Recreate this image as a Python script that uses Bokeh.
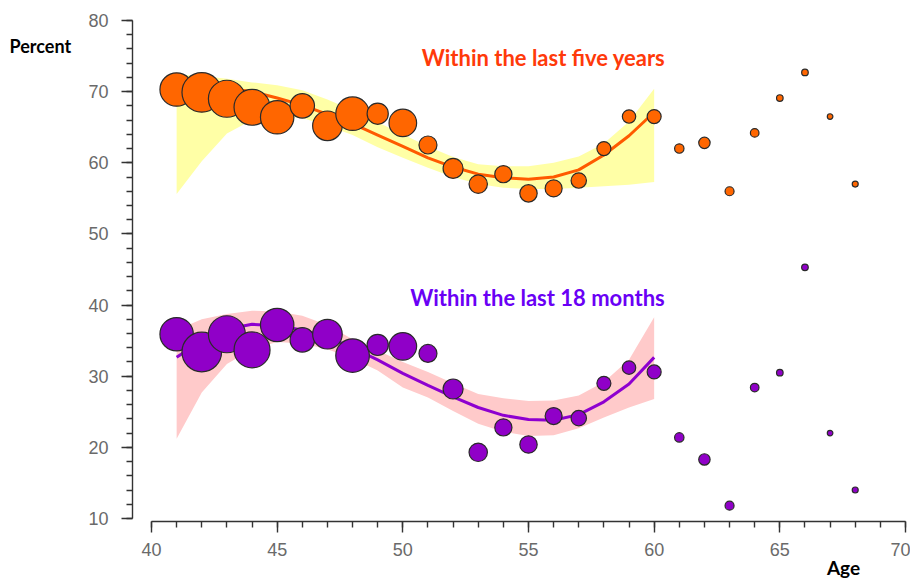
from bokeh.plotting import figure
from bokeh.models import Range1d, SingleIntervalTicker, Label
from bokeh.embed import file_html
from bokeh.resources import INLINE

# ---- data ----
ages = list(range(41, 69))
five_years = [70.3, 69.9, 69.0, 67.8, 66.4, 68.0, 65.2, 66.9, 66.9, 65.6,
              62.5, 59.2, 57.0, 58.4, 55.7, 56.4, 57.5, 62.0, 66.5, 66.5,
              62.0, 62.8, 56.0, 64.2, 69.1, 72.7, 66.5, 57.0]
eighteen_months = [35.9, 33.4, 35.9, 33.7, 37.2, 35.1, 35.9, 32.9, 34.4, 34.2,
                   33.2, 28.2, 19.3, 22.8, 20.4, 24.4, 24.1, 29.0, 31.2, 30.6,
                   21.4, 18.3, 11.8, 28.4, 30.5, 45.3, 22.0, 14.0]
# relative sample size per age (bubble radius)
sample_weight = [16.7, 19.8, 18.5, 18.0, 16.7, 12.2, 14.8, 16.8, 10.6, 13.8,
                 9.0, 10.0, 9.2, 8.6, 8.7, 8.5, 7.7, 7.0, 6.7, 7.0,
                 4.7, 5.7, 4.5, 4.3, 3.3, 3.3, 2.8, 3.0]

fit_ages = list(range(41, 61))
five_fit = [71.2, 70.9, 70.5, 70.0, 69.1, 68.1, 66.8, 65.5, 63.9, 62.3,
            60.7, 59.4, 58.4, 57.9, 57.7, 58.0, 59.0, 61.1, 63.8, 67.1]
five_upper = [72.4, 72.2, 71.8, 71.3, 70.9, 70.2, 68.9, 67.4, 65.7, 64.0,
              62.3, 60.8, 59.8, 59.5, 59.5, 60.0, 60.9, 62.7, 65.8, 70.4]
five_lower = [55.6, 60.2, 64.1, 66.0, 66.6, 66.3, 65.2, 63.9, 62.2, 60.7,
              59.3, 58.0, 57.0, 56.5, 56.3, 56.3, 56.5, 56.7, 56.9, 57.3]
eighteen_fit = [32.65, 35.0, 36.6, 37.3, 37.1, 36.5, 35.5, 34.0, 32.3, 30.4,
                28.7, 27.1, 25.6, 24.5, 23.9, 23.8, 24.6, 26.4, 28.9, 32.65]
eighteen_upper = [36.5, 38.0, 38.75, 39.2, 39.1, 38.5, 37.2, 35.2, 33.6, 32.0,
                  30.6, 29.0, 27.5, 26.9, 26.5, 26.6, 27.3, 29.2, 32.3, 38.3]
eighteen_lower = [21.2, 27.7, 31.7, 33.8, 34.8, 34.6, 33.8, 32.5, 30.8, 28.4,
                  27.0, 25.1, 23.3, 22.2, 21.6, 21.7, 22.7, 24.2, 25.6, 26.8]

x_ticks_interval = 5
y_ticks_interval = 10
x_axis_bounds = (40, 70)
y_axis_bounds = (10, 80)

# ---- figure: frame fills the canvas, axes drawn at fixed locations ----
W, H = 910, 580
X0, PX_X = 151.0, 25.133   # screen x of age 40, px per year
Y0, PX_Y = 20.0, 7.114     # screen y of 80 %, px per percent
x_start = 40 - X0 / PX_X
x_end = 40 + (W - X0) / PX_X
y_end = 80 + Y0 / PX_Y
y_start = 80 - (H - Y0) / PX_Y

p = figure(width=W, height=H,
           x_range=Range1d(x_start, x_end), y_range=Range1d(y_start, y_end),
           output_backend="svg", toolbar_location=None,
           min_border=0, min_border_left=0, min_border_right=0,
           min_border_top=0, min_border_bottom=0)
p.outline_line_color = None
p.xgrid.visible = False
p.ygrid.visible = False
p.background_fill_color = "white"
p.border_fill_color = "white"

# bands
p.varea(x=fit_ages, y1=five_lower, y2=five_upper, fill_color="#FFFFA6", fill_alpha=1.0)
p.varea(x=fit_ages, y1=eighteen_lower, y2=eighteen_upper, fill_color="#FFCACA", fill_alpha=1.0)

# fitted lines
p.line(fit_ages, five_fit, line_color="#FF5A00", line_width=3, line_join="round")
p.line(fit_ages, eighteen_fit, line_color="#8E00D0", line_width=3, line_join="round")

# bubbles
sizes = [2 * w for w in sample_weight]
p.scatter(ages, five_years, size=sizes, marker="circle",
          fill_color="#FF6600", line_color="#2A2A2A", line_width=1.2)
p.scatter(ages, eighteen_months, size=sizes, marker="circle",
          fill_color="#9000C8", line_color="#2A2A2A", line_width=1.2)

# axes
yaxis_x = 40 - 19 / PX_X          # y axis sits a little left of age 40
xaxis_y = 10 - 3 / PX_Y           # x axis sits just below 10 %
for ax, interval, bounds, loc in ((p.xaxis[0], x_ticks_interval, x_axis_bounds, xaxis_y),
                                  (p.yaxis[0], y_ticks_interval, y_axis_bounds, yaxis_x)):
    ax.fixed_location = loc
    ax.ticker = SingleIntervalTicker(interval=interval, num_minor_ticks=5)
    ax.bounds = bounds
    ax.axis_line_color = "#333333"
    ax.axis_line_width = 1.4
    ax.major_tick_line_color = "#333333"
    ax.minor_tick_line_color = "#333333"
    ax.major_tick_line_width = 1.4
    ax.minor_tick_line_width = 1.4
    ax.major_tick_in = 0
    ax.minor_tick_in = 0
    ax.major_tick_out = 11
    ax.minor_tick_out = 6
    ax.major_label_text_font = "Liberation Sans"
    ax.major_label_text_font_size = "18px"
    ax.major_label_text_color = "#6A6A6A"
p.xaxis.major_label_standoff = 11
p.yaxis.major_label_standoff = 13


def sx(px):
    return x_start + px / PX_X


def sy(py):
    return y_end - py / PX_Y


# texts
p.add_layout(Label(x=sx(9), y=sy(45), text="Percent", text_font="Lato",
                   text_font_style="bold", text_font_size="18px",
                   text_color="black", text_align="left", text_baseline="middle"))
p.add_layout(Label(x=sx(843), y=sy(567), text="Age", text_font="Lato",
                   text_font_style="bold", text_font_size="19px",
                   text_color="black", text_align="center", text_baseline="middle"))
p.add_layout(Label(x=sx(543), y=sy(57), text="Within the last five years", text_font="Lato",
                   text_font_style="bold", text_font_size="22px",
                   text_color="#FF3A0A", text_align="center", text_baseline="middle"))
p.add_layout(Label(x=sx(537), y=sy(297), text="Within the last 18 months", text_font="Lato",
                   text_font_style="bold", text_font_size="22px",
                   text_color="#6A00F5", text_align="center", text_baseline="middle"))

open("out.html", "w").write(file_html(p, INLINE))
